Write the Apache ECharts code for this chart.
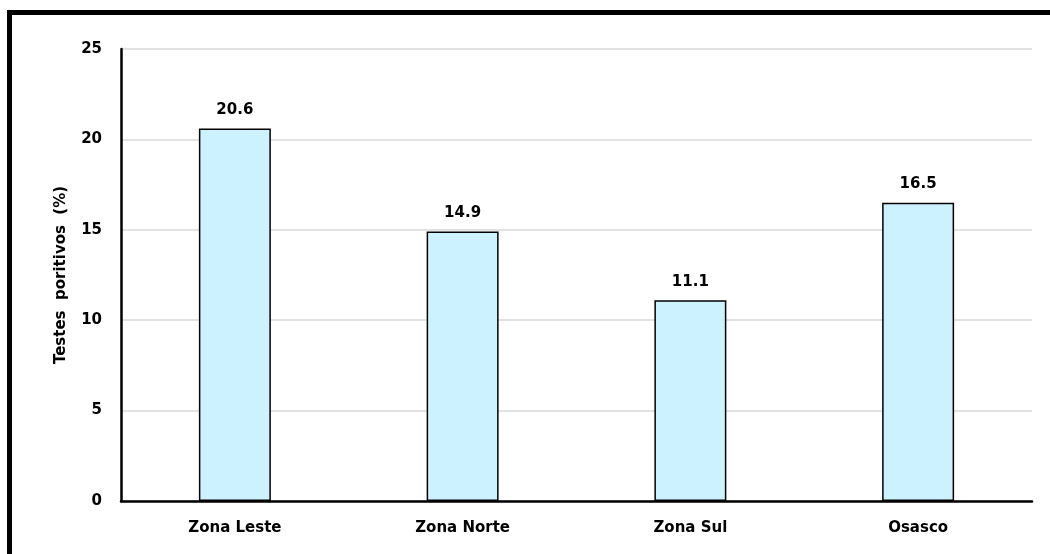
<!DOCTYPE html>
<html>
<head>
<meta charset="utf-8">
<script src="https://cdn.jsdelivr.net/npm/echarts@6/dist/echarts.min.js"></script>
<style>
  html, body { margin: 0; padding: 0; background: #fff; overflow: hidden; }
  #frame {
    position: absolute; left: 7px; top: 10px; width: 1100px; height: 600px;
    border-left: 5px solid #000; border-top: 5px solid #000; box-sizing: border-box;
  }
  #chart { position: absolute; left: 0; top: 0; width: 1050px; height: 554px; }
</style>
</head>
<body>
<div id="frame"></div>
<div id="chart"></div>
<script>
const categories = ['Zona Leste', 'Zona Norte', 'Zona Sul', 'Osasco']
const positives = [20.6, 14.9, 11.1, 16.5]
const yTicks = { min: 0, max: 25, interval: 5 }

const font = '"DejaVu Sans", Verdana, sans-serif'
const chart = echarts.init(document.getElementById('chart'))

chart.setOption({
  backgroundColor: 'transparent',
  animation: false,
  grid: { left: 121, right: 18, top: 49, bottom: 53 },
  xAxis: {
    type: 'category',
    data: categories,
    axisLine: { lineStyle: { color: '#000', width: 2.5 } },
    axisTick: { show: false },
    axisLabel: {
      color: '#000', fontFamily: font, fontWeight: 'bold', fontSize: 15, margin: 20,
    },
  },
  yAxis: {
    type: 'value',
    min: yTicks.min,
    max: yTicks.max,
    interval: yTicks.interval,
    name: 'Testes  poritivos  (%)',
    nameLocation: 'middle',
    nameGap: 52,
    nameTextStyle: { color: '#000', fontFamily: font, fontWeight: 'bold', fontSize: 15 },
    axisLine: { show: true, lineStyle: { color: '#000', width: 2.5 } },
    axisTick: { show: false },
    axisLabel: {
      color: '#000', fontFamily: font, fontWeight: 'bold', fontSize: 15, margin: 19,
    },
    splitLine: { lineStyle: { color: '#d9d9d9', width: 1.5 } },
  },
  series: [
    {
      type: 'bar',
      data: positives,
      barWidth: '31.6%',
      itemStyle: { color: '#ccf2ff', borderColor: '#000', borderWidth: 1.5 },
      label: {
        show: true,
        position: 'top',
        distance: 11,
        color: '#000',
        fontFamily: font,
        fontWeight: 'bold',
        fontSize: 15,
        formatter: (p) => p.value.toFixed(1),
      },
    },
  ],
})
</script>
</body>
</html>
